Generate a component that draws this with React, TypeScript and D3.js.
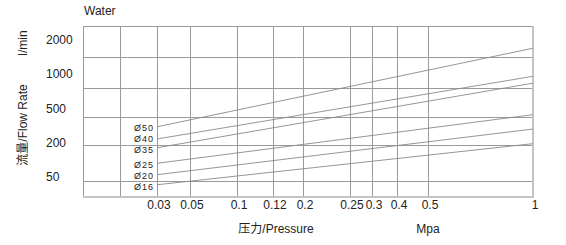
import React from "react";
import * as d3 from "d3";

// ---- data ----
const chartTitle = "Water";
const yUnit = "l/min";
const yTitle = "流量/Flow Rate";
const xTitle = "压力/Pressure";
const xUnit = "Mpa";

// pressure (MPa) gridlines: first two are unlabeled
const xGridValues = [0.01, 0.02, 0.03, 0.05, 0.1, 0.12, 0.2, 0.25, 0.3, 0.4, 0.5, 1];
const xTickValues = [0.03, 0.05, 0.1, 0.12, 0.2, 0.25, 0.3, 0.4, 0.5, 1];
const xTickLabels = ["0.03", "0.05", "0.1", "0.12", "0.2", "0.25", "0.3", "0.4", "0.5", "1"];

// flow (l/min)
const yTickValues = [50, 200, 500, 1000, 2000];
const yTickLabels = ["50", "200", "500", "1000", "2000"];
const yGridValues = [32, 190, 425, 800, 1500];

const seriesNames = ["Ø50", "Ø40", "Ø35", "Ø25", "Ø20", "Ø16"];
const pressureStart = 0.03;
const pressureEnd = 1;
const flowAtStart = [340, 233, 178, 110, 60, 16];
const flowAtEnd = [1760, 970, 870, 446, 320, 196];

// ---- layout ----
const W = 566;
const H = 245;
const left = 83;
const right = 533;
const top = 26;
const bottom = 197;
// irregular column layout of the original chart (px from plot left)
const xColumnOffsets = [0, 37, 74, 107, 154, 190, 220, 267, 289, 314, 345, 450];
const yFirstLabel = 177;
const yStep = 34.25;

const FONT = "'Liberation Sans', Arial, Helvetica, 'Noto Sans CJK SC', sans-serif";
const TEXT = "#222";

function spreadLabels(ys: number[], minGap: number): number[] {
  const p = ys.slice();
  for (let iter = 0; iter < 50; iter++) {
    let moved = false;
    for (let i = 0; i < p.length - 1; i++) {
      const gap = p[i + 1] - p[i];
      if (gap < minGap) {
        const d = (minGap - gap) / 2;
        p[i] -= d;
        p[i + 1] += d;
        moved = true;
      }
    }
    if (!moved) break;
  }
  return p;
}

export default function App() {
  const x = d3
    .scaleLinear()
    .domain(xGridValues)
    .range(xColumnOffsets.map((o) => left + o));
  const y = d3
    .scaleLinear()
    .domain(yTickValues)
    .range(yTickValues.map((_, i) => yFirstLabel - i * yStep));

  const crisp = (v: number) => Math.round(v) + 0.5;
  const line = d3
    .line<[number, number]>()
    .x((d) => x(d[0]))
    .y((d) => y(d[1]));

  const labelYs = spreadLabels(
    flowAtStart.map((v) => y(v) + 1.5),
    10.8
  );

  return (
    <svg
      width={W}
      height={H}
      style={{ position: "absolute", left: 0, top: 0, background: "#fff" }}
      fontFamily={FONT}
    >
      {/* title */}
      <text x={84} y={15} fontSize={12} fill={TEXT}>
        {chartTitle}
      </text>

      {/* horizontal grid */}
      {yGridValues.map((v, i) => (
        <line
          key={"hg" + i}
          x1={left}
          x2={right}
          y1={crisp(y(v))}
          y2={crisp(y(v))}
          stroke="#9a9a9a"
          strokeWidth={1}
        />
      ))}
      {/* vertical grid */}
      {xGridValues.map((v, i) => (
        <line
          key={"vg" + i}
          x1={crisp(x(v))}
          x2={crisp(x(v))}
          y1={top}
          y2={bottom}
          stroke="#9a9a9a"
          strokeWidth={1}
        />
      ))}
      {/* frame */}
      <line x1={left} x2={right} y1={top + 0.5} y2={top + 0.5} stroke="#9a9a9a" strokeWidth={1} />
      <line x1={left} x2={right + 1} y1={bottom} y2={bottom} stroke="#c4c4c4" strokeWidth={2} />
      <line x1={right} x2={right} y1={top} y2={bottom} stroke="#c4c4c4" strokeWidth={2} />

      {/* series */}
      {seriesNames.map((name, i) => {
        const pts: [number, number][] = [
          [pressureStart, flowAtStart[i]],
          [pressureEnd, flowAtEnd[i]],
        ];
        return (
          <g key={name}>
            <path d={line(pts) || ""} fill="none" stroke="#8a8a8a" strokeWidth={0.9} />
            <text
              x={x(pressureStart) - 3}
              y={labelYs[i]}
              fontSize={9}
              letterSpacing={1}
              textAnchor="end"
              dominantBaseline="central"
              fill={TEXT}
            >
              {name}
            </text>
          </g>
        );
      })}

      {/* y tick labels */}
      {yTickValues.map((v, i) => (
        <text
          key={"yl" + i}
          x={46}
          y={y(v)}
          fontSize={12}
          dominantBaseline="central"
          fill={TEXT}
        >
          {yTickLabels[i]}
        </text>
      ))}

      {/* x tick labels */}
      {xTickValues.map((v, i) => (
        <text
          key={"xl" + i}
          x={x(v) + 2}
          y={209}
          fontSize={12}
          textAnchor="middle"
          fill={TEXT}
        >
          {xTickLabels[i]}
        </text>
      ))}

      {/* axis titles */}
      <text
        transform="translate(23,43) rotate(-90)"
        fontSize={12}
        textAnchor="middle"
        dominantBaseline="central"
        fill={TEXT}
      >
        {yUnit}
      </text>
      <text
        transform="translate(23,125) rotate(-90)"
        fontSize={12}
        textAnchor="middle"
        dominantBaseline="central"
        fill={TEXT}
      >
        {yTitle}
      </text>
      <text x={276} y={233} fontSize={12} textAnchor="middle" fill={TEXT}>
        {xTitle}
      </text>
      <text x={428} y={233} fontSize={12} textAnchor="middle" fill={TEXT}>
        {xUnit}
      </text>
    </svg>
  );
}
